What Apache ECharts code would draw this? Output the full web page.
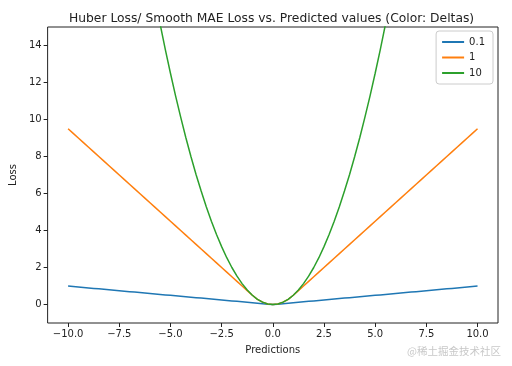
<!DOCTYPE html>
<html><head><meta charset="utf-8">
<script src="https://cdn.jsdelivr.net/npm/echarts@6/dist/echarts.min.js"></script>
<style>html,body{margin:0;padding:0;background:#fff}#c{width:512px;height:366px}</style>
</head><body><div id="c"></div>
<script>
var predictions = [-10,-9.75,-9.5,-9.25,-9,-8.75,-8.5,-8.25,-8,-7.75,-7.5,-7.25,-7,-6.75,-6.5,-6.25,-6,-5.75,-5.5,-5.25,-5,-4.75,-4.5,-4.25,-4,-3.75,-3.5,-3.25,-3,-2.75,-2.5,-2.25,-2,-1.75,-1.5,-1.25,-1,-0.75,-0.5,-0.25,0,0.25,0.5,0.75,1,1.25,1.5,1.75,2,2.25,2.5,2.75,3,3.25,3.5,3.75,4,4.25,4.5,4.75,5,5.25,5.5,5.75,6,6.25,6.5,6.75,7,7.25,7.5,7.75,8,8.25,8.5,8.75,9,9.25,9.5,9.75,10];
var loss01 = [0.995,0.97,0.945,0.92,0.895,0.87,0.845,0.82,0.795,0.77,0.745,0.72,0.695,0.67,0.645,0.62,0.595,0.57,0.545,0.52,0.495,0.47,0.445,0.42,0.395,0.37,0.345,0.32,0.295,0.27,0.245,0.22,0.195,0.17,0.145,0.12,0.095,0.07,0.045,0.02,0,0.02,0.045,0.07,0.095,0.12,0.145,0.17,0.195,0.22,0.245,0.27,0.295,0.32,0.345,0.37,0.395,0.42,0.445,0.47,0.495,0.52,0.545,0.57,0.595,0.62,0.645,0.67,0.695,0.72,0.745,0.77,0.795,0.82,0.845,0.87,0.895,0.92,0.945,0.97,0.995];
var loss1 = [9.5,9.25,9,8.75,8.5,8.25,8,7.75,7.5,7.25,7,6.75,6.5,6.25,6,5.75,5.5,5.25,5,4.75,4.5,4.25,4,3.75,3.5,3.25,3,2.75,2.5,2.25,2,1.75,1.5,1.25,1,0.75,0.5,0.28,0.13,0.03,0,0.03,0.13,0.28,0.5,0.75,1,1.25,1.5,1.75,2,2.25,2.5,2.75,3,3.25,3.5,3.75,4,4.25,4.5,4.75,5,5.25,5.5,5.75,6,6.25,6.5,6.75,7,7.25,7.5,7.75,8,8.25,8.5,8.75,9,9.25,9.5];
var loss10 = [50,47.53,45.13,42.78,40.5,38.28,36.13,34.03,32,30.03,28.13,26.28,24.5,22.78,21.13,19.53,18,16.53,15.13,13.78,12.5,11.28,10.13,9.03,8,7.03,6.13,5.28,4.5,3.78,3.13,2.53,2,1.53,1.13,0.78,0.5,0.28,0.13,0.03,0,0.03,0.13,0.28,0.5,0.78,1.13,1.53,2,2.53,3.13,3.78,4.5,5.28,6.13,7.03,8,9.03,10.13,11.28,12.5,13.78,15.13,16.53,18,19.53,21.13,22.78,24.5,26.28,28.13,30.03,32,34.03,36.13,38.28,40.5,42.78,45.13,47.53,50];
var deltaNames = ['0.1','1','10'];
var xTicks = [-10,-7.5,-5,-2.5,0,2.5,5,7.5,10];
var yTicks = [0,2,4,6,8,10,12,14];
var colors = ['#1f77b4','#ff7f0e','#2ca02c'];

function pairs(ys){ return predictions.map(function(x,i){ return [x, ys[i]]; }); }
var font = 'DejaVu Sans';
function fmtX(v){ var s = Math.abs(v).toFixed(1); return (v < 0 ? '\u2212' : '') + s; }

var chart = echarts.init(document.getElementById('c'), null, {renderer:'canvas'});
chart.setOption({
  animation:false,
  backgroundColor:'#fff',
  textStyle:{fontFamily:font},
  title:{text:'Huber Loss/ Smooth MAE Loss vs. Predicted values (Color: Deltas)', left:64, top:8,
    textStyle:{fontFamily:font, fontSize:12.3, fontWeight:'normal', color:'#222'}},
  grid:{left:46, right:14, top:27, bottom:43, show:true, borderColor:'#222', borderWidth:1, backgroundColor:'transparent'},
  legend:{orient:'vertical', right:19, top:31, itemWidth:22, itemHeight:2, itemGap:5.5, icon:'rect',
    padding:[6,8,6,6], borderColor:'#ccc', borderWidth:1, borderRadius:3, backgroundColor:'#fff',
    textStyle:{fontFamily:font, fontSize:10, color:'#222'}, data:deltaNames},
  xAxis:{type:'value', min:-11, max:11, name:'Predictions', nameLocation:'middle', nameGap:22,
    nameTextStyle:{fontFamily:font, fontSize:10, color:'#222'},
    axisLine:{show:false, onZero:false}, splitLine:{show:false},
    axisTick:{show:true, length:4, lineStyle:{color:'#222'}, customValues:xTicks},
    axisLabel:{fontFamily:font, fontSize:10, color:'#222', margin:6, customValues:xTicks, formatter:fmtX}},
  yAxis:{type:'value', min:-1, max:15, name:'Loss', nameLocation:'middle', nameGap:23,
    nameTextStyle:{fontFamily:font, fontSize:10, color:'#222'},
    axisLine:{show:false, onZero:false}, splitLine:{show:false},
    axisTick:{show:true, length:4, lineStyle:{color:'#222'}, customValues:yTicks},
    axisLabel:{fontFamily:font, fontSize:10, color:'#222', margin:6, customValues:yTicks}},
  series:[loss01, loss1, loss10].map(function(ys,i){
    return {type:'line', name:deltaNames[i], data:pairs(ys), showSymbol:false, symbol:'none', clip:true,
      color:colors[i], lineStyle:{width:1.5, color:colors[i]}, itemStyle:{color:colors[i]}};
  }),
  graphic:[{type:'text', right:11, bottom:10, style:{text:'@稀土掘金技术社区', fontFamily:'Noto Sans CJK SC', fontSize:10.5, fill:'#c8c8c8'}}]
});
</script></body></html>
